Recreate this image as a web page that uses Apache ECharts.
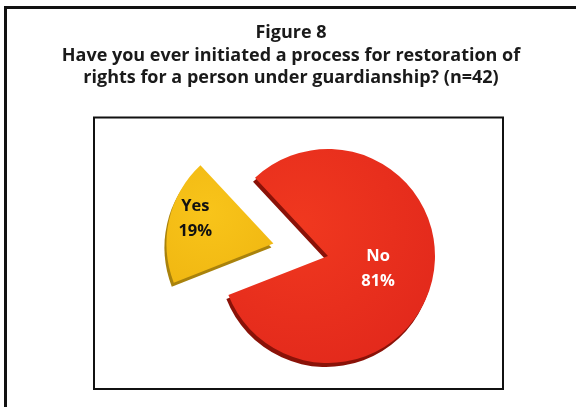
<!DOCTYPE html>
<html>
<head>
<meta charset="utf-8">
<script src="https://cdn.jsdelivr.net/npm/echarts@6/dist/echarts.min.js"></script>
<style>
  html, body { margin: 0; padding: 0; background: #ffffff; }
  #chart { width: 576px; height: 407px; }
</style>
</head>
<body>
<div id="chart"></div>
<script>
// Survey answers (share of respondents, %)
const categories = ['No', 'Yes'];
const percents = [81, 19];
const titleLines = [
  'Figure 8',
  'Have you ever initiated a process for restoration of',
  'rights for a person under guardianship? (n=42)'
];

// Per-slice look; label padding / trailing line nudge the text off the default inner anchor
const sliceStyles = {
  No: {
    color: {
      type: 'radial', x: 0.35, y: 0.35, r: 0.9,
      colorStops: [{ offset: 0, color: '#F0381F' }, { offset: 1, color: '#E0261B' }]
    },
    shadowColor: '#8A1208', labelColor: '#ffffff', labelPadding: [0, 10, 0, 0], raise: false
  },
  Yes: {
    color: {
      type: 'radial', x: 0.4, y: 0.4, r: 0.9,
      colorStops: [{ offset: 0, color: '#F8C41A' }, { offset: 1, color: '#EFB510' }]
    },
    shadowColor: '#A9820C', labelColor: '#111111', labelPadding: [0, 46, 0, 0], raise: true
  }
};

const chart = echarts.init(document.getElementById('chart'), null, { renderer: 'canvas' });

const data = categories.map((name, i) => {
  const s = sliceStyles[name];
  return {
    name: name,
    value: percents[i],
    selected: name === 'Yes',
    itemStyle: {
      color: s.color,
      shadowColor: s.shadowColor,
      shadowBlur: 0,
      shadowOffsetX: -2,
      shadowOffsetY: 4
    },
    label: {
      color: s.labelColor,
      padding: s.labelPadding,
      formatter: p => p.name + '\n' + p.value + '%' + (s.raise ? '\n' : '')
    }
  };
});

chart.setOption({
  animation: false,
  backgroundColor: '#ffffff',
  title: {
    text: titleLines.join('\n'),
    left: 291,
    top: 22,
    padding: 0,
    textAlign: 'center',
    textStyle: {
      fontFamily: 'Open Sans',
      fontWeight: 'bold',
      fontSize: 18,
      lineHeight: 22.5,
      color: '#1a1a1a'
    }
  },
  graphic: [
    {
      type: 'rect', silent: true,
      shape: { x: 5.5, y: 7.5, width: 620, height: 500 },
      style: { fill: 'none', stroke: '#111111', lineWidth: 3 }
    },
    {
      type: 'rect', silent: true,
      shape: { x: 94, y: 117.5, width: 409, height: 271.5 },
      style: { fill: 'none', stroke: '#111111', lineWidth: 2 }
    }
  ],
  series: [{
    type: 'pie',
    center: [328, 256],
    radius: 107,
    startAngle: 133,
    clockwise: true,
    selectedMode: 'single',
    selectedOffset: 56,
    avoidLabelOverlap: false,
    label: {
      show: true,
      position: 'inside',
      fontFamily: 'Open Sans',
      fontWeight: 'bold',
      fontSize: 16.5,
      lineHeight: 25
    },
    labelLine: { show: false },
    emphasis: { disabled: true },
    data: data
  }]
});
</script>
</body>
</html>
